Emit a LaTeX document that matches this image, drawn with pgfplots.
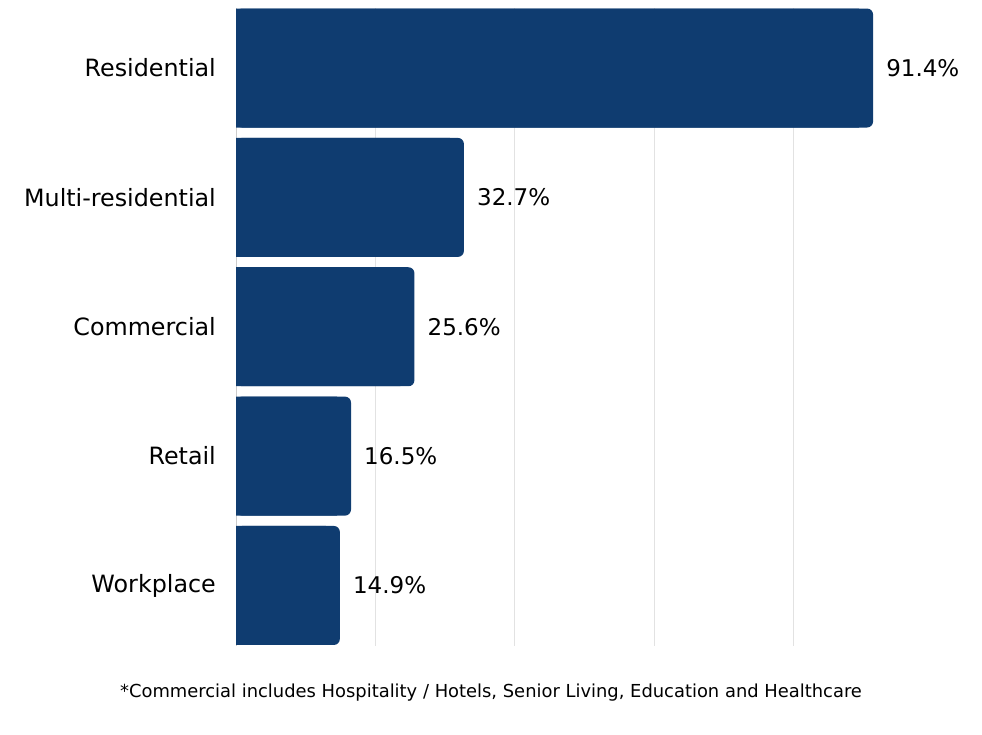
\documentclass[border=0pt]{standalone}
\usepackage{pgfplots}
\pgfplotsset{compat=1.18}
\usepackage{pgfplotstable}
\usepackage{fontspec}
\setmainfont{DejaVu Sans}
\definecolor{barblue}{HTML}{0F3C70}
\definecolor{gridgray}{HTML}{E2E2E2}
\definecolor{axisgray}{HTML}{CCCCCC}
\pgfplotstableread{
idx value
0 91.4
1 32.7
2 25.6
3 16.5
4 14.9
}\datatable
\begin{document}
\begin{tikzpicture}[x=1pt,y=1pt]
\useasboundingbox (0,0) rectangle (982,734);
\begin{axis}[
  at={(236pt,88pt)}, anchor=south west,
  scale only axis, width=697pt, height=638pt,
  xmin=0, xmax=100,
  ymin=-0.464, ymax=4.468,
  y dir=reverse,
  xbar, bar width=119pt, bar shift=0pt,
  /pgf/number format/assume math mode=true,
  xtick={20,40,60,80}, xticklabels={},
  xmajorgrids, major grid style={gridgray, line width=0.8pt},
  major tick length=0pt,
  ytick={0,1,2,3,4},
  yticklabels={Residential,Multi-residential,Commercial,Retail,Workplace},
  yticklabel style={font=\fontsize{23.8}{28}\selectfont, inner sep=0pt, xshift=-20pt},
  axis x line*=bottom,
  x axis line style={draw=none},
  axis y line*=left,
  y axis line style={axisgray, line width=0.8pt, -},
  clip=false,
]
\addplot[fill=barblue, draw=none, rounded corners=6pt,
  nodes near coords={\pgfmathprintnumber[fixed,precision=1,fixed zerofill]{\pgfplotspointmeta}\%},
  nodes near coords style={font=\fontsize{23}{28}\selectfont, anchor=west, inner sep=0pt, xshift=13pt, black},
  point meta=x]
  table[x=value,y=idx]{\datatable};
\addplot[fill=barblue, draw=none, x filter/.expression={x-2}]
  table[x=value,y=idx]{\datatable};
\end{axis}
\node[font=\fontsize{17.9}{21}\selectfont] at (491,41) {*Commercial includes Hospitality / Hotels, Senior Living, Education and Healthcare};
\end{tikzpicture}
\end{document}
